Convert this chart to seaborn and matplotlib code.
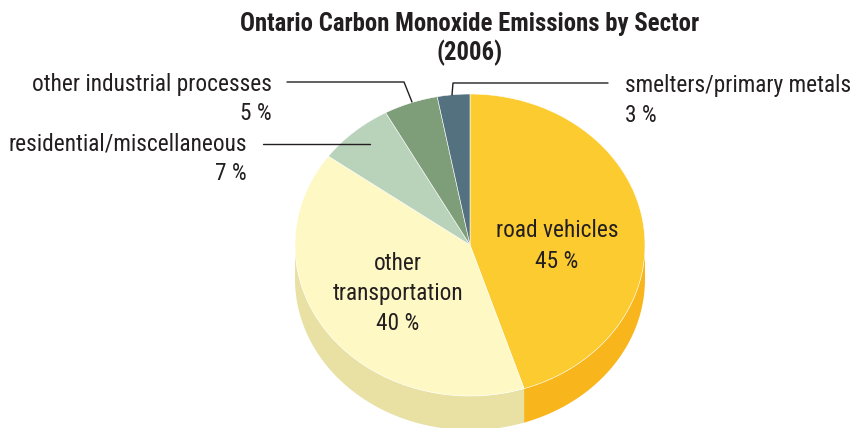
import numpy as np
import matplotlib
matplotlib.use("Agg")
import matplotlib.pyplot as plt
from matplotlib import font_manager
from matplotlib.patches import Polygon
import seaborn as sns

# Ontario CO emissions by sector, 2006 (percent of total)
sectors = ["road vehicles", "other transportation", "residential/miscellaneous",
           "other industrial processes", "smelters/primary metals"]
shares = [45, 40, 7, 5, 3]
top_colors = ["#FCCB2F", "#FEF8C4", "#B9D2BA", "#7E9E7A", "#54717F"]
side_colors = ["#F8B61C", "#E8E1A3", "#A3BCA4", "#6B8A68", "#445E6B"]
title_lines = ["Ontario Carbon Monoxide Emissions by Sector", "(2006)"]

sns.set_theme(style="white")
available = {f.name for f in font_manager.fontManager.ttflist}
narrow = next((n for n in ["Roboto Condensed", "Liberation Sans Narrow", "Roboto"]
               if n in available), "DejaVu Sans")
plt.rcParams["font.family"] = [narrow, "DejaVu Sans"]
text_color = "#231F20"

fig = plt.figure(figsize=(8.56, 4.28), dpi=100)
ax = fig.add_axes([0, 0, 1, 1])
ax.set_xlim(0, 856)
ax.set_ylim(428, 0)
ax.set_axis_off()

# elliptical pie geometry (pixel-like units, y down)
cx, cy, rx, ry, depth = 470, 245, 175, 151, 34


def rim(t0, t1, n=120):
    t = np.radians(np.linspace(t0, t1, n))
    return cx + rx * np.sin(t), cy - ry * np.cos(t)


fracs = np.array(shares, dtype=float) / np.sum(shares)
bounds = np.concatenate([[0], np.cumsum(fracs) * 360])

# front walls of the cylinder
for i in range(len(shares)):
    a, b = max(bounds[i], 90), min(bounds[i + 1], 270)
    if b <= a:
        continue
    x, y = rim(a, b)
    pts = np.column_stack([np.concatenate([x, x[::-1]]),
                           np.concatenate([y, (y + depth)[::-1]])])
    ax.add_patch(Polygon(pts, closed=True, facecolor=side_colors[i],
                         edgecolor="none", zorder=1))

# top faces
for i in range(len(shares)):
    x, y = rim(bounds[i], bounds[i + 1])
    pts = np.column_stack([np.concatenate([[cx], x]), np.concatenate([[cy], y])])
    ax.add_patch(Polygon(pts, closed=True, facecolor=top_colors[i],
                         edgecolor="#FFFFFF", linewidth=0.4, zorder=2))

ax.text(470, 31, title_lines[0], ha="center", va="baseline", fontsize=17.8,
        fontweight="bold", color=text_color)
ax.text(470, 60, title_lines[1], ha="center", va="baseline", fontsize=17.8,
        fontweight="bold", color=text_color)

fs = 16.8
kw = dict(va="baseline", fontsize=fs, color=text_color)
# labels inside the large slices
ax.text(557, 237, sectors[0], ha="center", **kw)
ax.text(557, 268, f"{shares[0]} %", ha="center", **kw)
ax.text(398, 270, "other", ha="center", **kw)
ax.text(398, 300, "transportation", ha="center", **kw)
ax.text(398, 330, f"{shares[1]} %", ha="center", **kw)

# outside labels with leader lines
ax.text(272, 91, sectors[3], ha="right", **kw)
ax.text(272, 120, f"{shares[3]} %", ha="right", **kw)
ax.plot([287, 404, 412], [82, 82, 102], color=text_color, lw=1, zorder=3)

ax.text(247, 150, sectors[2], ha="right", **kw)
ax.text(247, 180, f"{shares[2]} %", ha="right", **kw)
ax.plot([263, 370], [144, 144], color=text_color, lw=1, zorder=3)

ax.text(625, 92, sectors[4], ha="left", **kw)
ax.text(625, 122, f"{shares[4]} %", ha="left", **kw)
ax.plot([452, 453, 608], [95, 83, 83], color=text_color, lw=1, zorder=3)

fig.savefig("out.png", dpi=100, facecolor="white")
